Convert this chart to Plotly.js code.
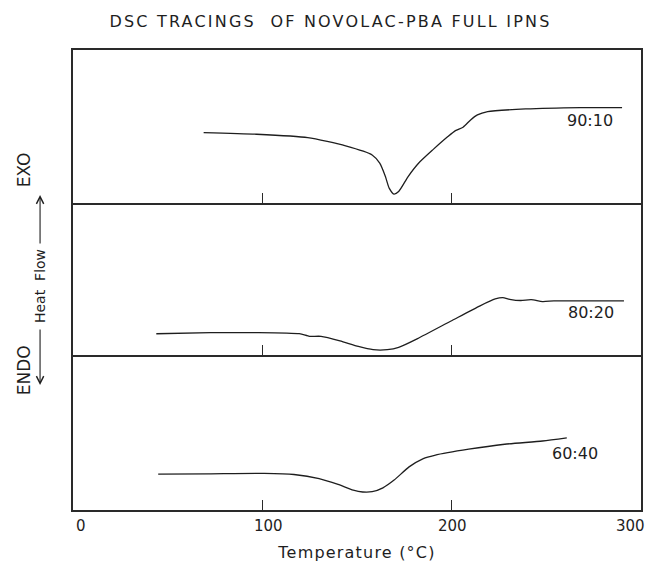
<!DOCTYPE html>
<html>
<head>
<meta charset="utf-8">
<script src="https://cdn.plot.ly/plotly-3.0.1.min.js"></script>
<style>
  html, body { margin: 0; padding: 0; background: #fff; }
  #chart { width: 648px; height: 568px; }
  .gtitle { letter-spacing: 2.2px; }
  .xtitle { letter-spacing: 1.2px; }
</style>
</head>
<body>
<div id="chart"></div>
<script>
// DSC tracings for three novolac / PBA blend ratios (heat flow in arbitrary units per panel)
const blendLabels = ['90:10', '80:20', '60:40'];

const temp9010 = [69, 97, 124, 144, 158, 162, 165, 167, 169.5, 172, 177, 182.5, 190, 198, 202, 206, 210, 213.6, 219, 239, 268, 290];
const flow9010 = [4.61, 4.5, 4.28, 3.74, 3.15, 2.61, 1.74, 0.98, 0.59, 0.76, 1.74, 2.61, 3.48, 4.35, 4.74, 4.96, 5.43, 5.76, 5.98, 6.15, 6.24, 6.24];

const temp8020 = [44, 72.7, 98, 119.5, 123, 125, 131, 141, 150.7, 158.5, 166, 172, 182, 199.4, 215, 223, 227, 230.6, 236.5, 242, 248, 254, 267.6, 291];
const flow8020 = [1.40, 1.47, 1.47, 1.40, 1.30, 1.23, 1.23, 0.93, 0.56, 0.35, 0.35, 0.50, 1.08, 2.22, 3.24, 3.69, 3.78, 3.67, 3.59, 3.65, 3.52, 3.56, 3.56, 3.56];

const temp6040 = [45, 71.6, 101, 116.7, 130, 140, 148, 153, 158, 163.7, 169.6, 177.5, 185, 191, 209, 228, 248, 260.8];
const flow6040 = [2.31, 2.33, 2.36, 2.29, 2.03, 1.65, 1.28, 1.16, 1.18, 1.43, 1.93, 2.78, 3.32, 3.53, 3.92, 4.24, 4.45, 4.65];

const xTickVals = [0, 100, 200, 300];
const xTickText = ['0', '100', '200', '300'];

const FONT = 'DejaVu Sans, Liberation Sans, sans-serif';
const INK = '#1e1e1e';
const FRAME = '#2a2a2a';

function trace(x, y, xa, ya) {
  return {
    x: x, y: y, xaxis: xa, yaxis: ya,
    type: 'scatter', mode: 'lines',
    line: { color: INK, width: 1.3, shape: 'spline', smoothing: 0.6 },
    hoverinfo: 'skip', showlegend: false
  };
}

const data = [
  trace(temp9010, flow9010, 'x3', 'y3'),
  trace(temp8020, flow8020, 'x2', 'y2'),
  trace(temp6040, flow6040, 'x', 'y')
];

function xAxis(anchor, mirror, vals) {
  return {
    anchor: anchor,
    range: [0, 300],
    showgrid: false, zeroline: false,
    showline: true, mirror: mirror, linecolor: FRAME, linewidth: 2,
    ticks: 'inside', ticklen: 10, tickwidth: 1.5, tickcolor: FRAME,
    tickvals: vals,
    showticklabels: false
  };
}

function yAxis(domain, anchor) {
  return {
    domain: domain, anchor: anchor,
    range: [0, 10],
    showgrid: false, zeroline: false,
    showline: true, mirror: true, linecolor: FRAME, linewidth: 2,
    ticks: '', showticklabels: false
  };
}

function sideLabel(text, x, y, size) {
  return {
    text: text, xref: 'paper', yref: 'paper', x: x, y: y,
    xanchor: 'center', yanchor: 'middle', textangle: -90,
    showarrow: false, font: { family: FONT, size: size, color: INK }
  };
}

function sideArrow(y, ay) {
  return {
    text: '', xref: 'paper', yref: 'paper', x: -0.058, y: y,
    ax: 0, ay: ay, showarrow: true,
    arrowhead: 5, arrowsize: 1.3, arrowwidth: 1.1, arrowcolor: INK
  };
}

// hand-lettered temperature labels sit slightly inside the frame at both ends
const tickNudge = [8, 6, 1, -11];
const tickLabels = xTickVals.map((v, i) => ({
  text: xTickText[i], xref: 'x', yref: 'paper', x: v, y: 0,
  xanchor: 'center', yanchor: 'top', xshift: tickNudge[i], yshift: -5,
  showarrow: false, font: { family: FONT, size: 15, color: INK }
}));

const layout = {
  width: 648, height: 568,
  margin: { l: 73, r: 7, t: 50, b: 58 },
  paper_bgcolor: '#fff', plot_bgcolor: '#fff',
  font: { family: FONT, color: INK },
  title: {
    text: 'DSC TRACINGS  OF NOVOLAC-PBA FULL IPNS',
    font: { family: FONT, size: 16, color: INK },
    xref: 'container', x: 0.51, xanchor: 'center',
    yref: 'container', y: 0.963, yanchor: 'middle'
  },
  xaxis: Object.assign(xAxis('y', false, xTickVals), {
    title: { text: 'Temperature (°C)', font: { family: FONT, size: 16, color: INK }, standoff: 36 }
  }),
  xaxis2: Object.assign(xAxis('y2', false, [100, 200]), { matches: 'x' }),
  xaxis3: Object.assign(xAxis('y3', true, [100, 200]), { matches: 'x' }),
  yaxis: yAxis([0, 0.337], 'x'),
  yaxis2: yAxis([0.337, 0.667], 'x2'),
  yaxis3: yAxis([0.667, 1], 'x3'),
  annotations: [
    { text: blendLabels[0], xref: 'x3', yref: 'y3', x: 273, y: 5.4, showarrow: false,
      font: { family: FONT, size: 16, color: INK } },
    { text: blendLabels[1], xref: 'x2', yref: 'y2', x: 273.5, y: 2.8, showarrow: false,
      font: { family: FONT, size: 16, color: INK } },
    { text: blendLabels[2], xref: 'x', yref: 'y', x: 265, y: 3.64, showarrow: false,
      font: { family: FONT, size: 16, color: INK } },
    sideLabel('EXO', -0.086, 0.739, 17),
    sideLabel('ENDO', -0.086, 0.304, 17),
    sideLabel('Heat  Flow', -0.058, 0.487, 14),
    sideArrow(0.6848, 50),
    sideArrow(0.2717, -57)
  ].concat(tickLabels)
};

Plotly.newPlot('chart', data, layout, { staticPlot: true, displayModeBar: false });
</script>
</body>
</html>
